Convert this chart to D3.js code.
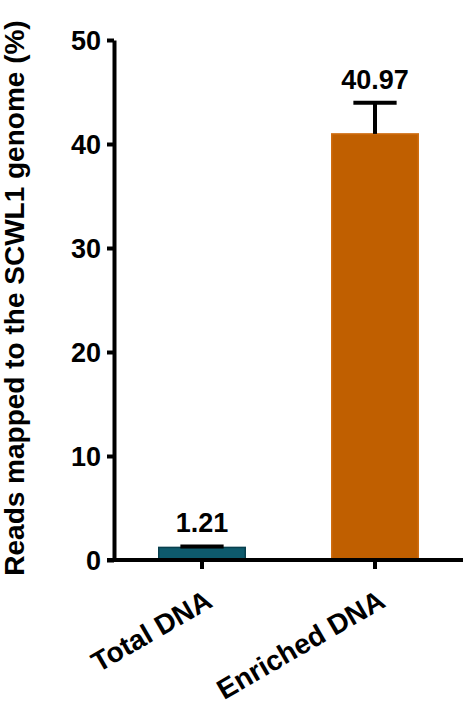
<!DOCTYPE html>
<html lang="en">
<head>
    <meta charset="UTF-8">
    <title>Reads mapped to SCWL1 genome</title>
    <script src="https://d3js.org/d3.v7.min.js"></script>
    <style>
        body { margin: 0; background: white; }
        svg text { font-family: "Liberation Sans", Arial, sans-serif; font-weight: bold; fill: black; }
    </style>
</head>
<body>
    <svg width="468" height="704"></svg>
    <script>
        const categories = ["Total DNA", "Enriched DNA"];
        const means = [1.21, 40.97];
        const errors = [0.1, 3.0];
        const yTicks = [0, 10, 20, 30, 40, 50];
        const fills = ["#0e5a6c", "#c05f00"];
        const strokes = ["#083f4d", "#cf6d10"];

        const svg = d3.select("svg");
        const x0 = 114, xEnd = 463, yTop = 40, yBase = 560;

        const y = d3.scaleLinear().domain([0, 50]).range([yBase, yTop]);
        const x = d3.scaleBand()
            .domain(categories)
            .range([x0 + 1.5, xEnd - 1.5])
            .paddingInner(0.5)
            .paddingOuter(0.25);

        const data = categories.map((c, i) => ({ cat: c, mean: means[i], err: errors[i], fill: fills[i], stroke: strokes[i] }));

        // bars
        svg.selectAll("rect.bar")
            .data(data)
            .enter().append("rect")
            .attr("class", "bar")
            .attr("x", d => x(d.cat))
            .attr("width", x.bandwidth())
            .attr("y", d => y(d.mean))
            .attr("height", d => yBase - y(d.mean))
            .attr("fill", d => d.fill)
            .attr("stroke", d => d.stroke)
            .attr("stroke-width", 1.5);

        // error bars (upper only)
        const eb = svg.append("g").attr("stroke", "black").attr("stroke-width", 4);
        data.forEach(d => {
            const cx = x(d.cat) + x.bandwidth() / 2;
            eb.append("line").attr("x1", cx).attr("x2", cx)
                .attr("y1", y(d.mean)).attr("y2", y(d.mean + d.err));
            eb.append("line")
                .attr("x1", cx - x.bandwidth() / 4).attr("x2", cx + x.bandwidth() / 4)
                .attr("y1", y(d.mean + d.err)).attr("y2", y(d.mean + d.err));
        });

        // value labels
        svg.selectAll("text.val")
            .data(data)
            .enter().append("text")
            .attr("class", "val")
            .attr("x", d => x(d.cat) + x.bandwidth() / 2)
            .attr("y", d => y(d.mean + d.err) - 14)
            .attr("text-anchor", "middle")
            .style("font-size", "27px")
            .text(d => d.mean.toFixed(2));

        // y axis
        const yAxis = svg.append("g")
            .attr("transform", `translate(${x0},0)`)
            .call(d3.axisLeft(y).tickValues(yTicks).tickSize(7).tickPadding(6).tickSizeOuter(0));
        yAxis.select(".domain").attr("stroke-width", 4);
        yAxis.selectAll(".tick line").attr("stroke-width", 4);
        yAxis.selectAll(".tick text").style("font-size", "27px").attr("dy", "0.36em");

        // x axis
        const xAxis = svg.append("g")
            .attr("transform", `translate(0,${yBase})`)
            .call(d3.axisBottom(x).tickSize(9).tickSizeOuter(0).tickFormat(""));
        xAxis.select(".domain").remove();
        xAxis.append("line").attr("x1", x0 - 7).attr("x2", xEnd)
            .attr("stroke", "black").attr("stroke-width", 4);
        xAxis.selectAll(".tick line").attr("stroke-width", 4);

        svg.selectAll("text.cat")
            .data(categories)
            .enter().append("text")
            .attr("class", "cat")
            .attr("text-anchor", "end")
            .attr("transform", d => `translate(${x(d) + x.bandwidth() / 2 + 12},${yBase + 46}) rotate(-30)`)
            .style("font-size", "28px")
            .text(d => d);

        // y title
        svg.append("text")
            .attr("transform", `translate(24,298) rotate(-90)`)
            .attr("text-anchor", "middle")
            .style("font-size", "28px")
            .text("Reads mapped to the SCWL1 genome (%)");
    </script>
</body>
</html>
